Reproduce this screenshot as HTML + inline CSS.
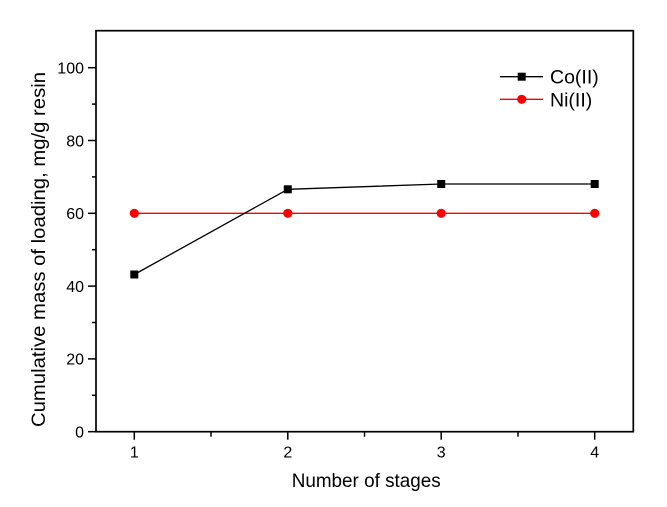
<!DOCTYPE html>
<html><head><meta charset="utf-8"><style>
html,body{margin:0;padding:0;background:#fff;}
svg{display:block;}
text{font-family:"Liberation Sans",Arial,sans-serif;fill:#000;}
</style></head><body>
<svg width="667" height="507" viewBox="0 0 667 507" xmlns="http://www.w3.org/2000/svg">
<rect width="667" height="507" fill="#fff"/>
<!-- axes box -->
<rect x="96" y="30.7" width="537.3" height="401" fill="none" stroke="#000" stroke-width="1.7"/>
<!-- y major ticks -->
<g stroke="#000" stroke-width="1.5">
<line x1="88" y1="431.7" x2="96" y2="431.7"/>
<line x1="88" y1="358.9" x2="96" y2="358.9"/>
<line x1="88" y1="286.1" x2="96" y2="286.1"/>
<line x1="88" y1="213.3" x2="96" y2="213.3"/>
<line x1="88" y1="140.5" x2="96" y2="140.5"/>
<line x1="88" y1="67.7" x2="96" y2="67.7"/>
<!-- y minor -->
<line x1="92" y1="395.3" x2="96" y2="395.3"/>
<line x1="92" y1="322.5" x2="96" y2="322.5"/>
<line x1="92" y1="249.7" x2="96" y2="249.7"/>
<line x1="92" y1="176.9" x2="96" y2="176.9"/>
<line x1="92" y1="104.1" x2="96" y2="104.1"/>
<!-- x major -->
<line x1="134.3" y1="431.7" x2="134.3" y2="439.7"/>
<line x1="287.8" y1="431.7" x2="287.8" y2="439.7"/>
<line x1="441.2" y1="431.7" x2="441.2" y2="439.7"/>
<line x1="594.7" y1="431.7" x2="594.7" y2="439.7"/>
<!-- x minor -->
<line x1="211" y1="431.7" x2="211" y2="436.7"/>
<line x1="364.5" y1="431.7" x2="364.5" y2="436.7"/>
<line x1="518" y1="431.7" x2="518" y2="436.7"/>
</g>
<!-- y tick labels -->
<g font-size="16" text-anchor="end">
<text x="84" y="437.5">0</text>
<text x="84" y="364.7">20</text>
<text x="84" y="291.9">40</text>
<text x="84" y="219.1">60</text>
<text x="84" y="146.3">80</text>
<text x="84" y="73.5">100</text>
</g>
<!-- x tick labels -->
<g font-size="16" text-anchor="middle">
<text x="134.3" y="457.3">1</text>
<text x="287.8" y="457.3">2</text>
<text x="441.2" y="457.3">3</text>
<text x="594.7" y="457.3">4</text>
</g>
<!-- axis titles -->
<text x="291.7" y="487" font-size="19.5" textLength="149" lengthAdjust="spacingAndGlyphs">Number of stages</text>
<text transform="translate(45,427) rotate(-90)" font-size="19.5" textLength="355" lengthAdjust="spacingAndGlyphs">Cumulative mass of loading, mg/g resin</text>
<!-- Ni series -->
<polyline points="134.3,213.3 287.8,213.3 441.2,213.3 594.7,213.3" fill="none" stroke="#ff0000" stroke-width="1.3"/>
<g fill="#ff0000">
<circle cx="134.3" cy="213.3" r="4.6"/>
<circle cx="287.8" cy="213.3" r="4.6"/>
<circle cx="441.2" cy="213.3" r="4.6"/>
<circle cx="594.7" cy="213.3" r="4.6"/>
</g>
<!-- Co series -->
<polyline points="134.3,274.5 287.8,189.3 441.2,184 594.7,184" fill="none" stroke="#000" stroke-width="1.3"/>
<g fill="#000">
<rect x="130.3" y="270.5" width="8" height="8"/>
<rect x="283.8" y="185.3" width="8" height="8"/>
<rect x="437.2" y="180" width="8" height="8"/>
<rect x="590.7" y="180" width="8" height="8"/>
</g>
<!-- legend -->
<line x1="500" y1="76.7" x2="543" y2="76.7" stroke="#000" stroke-width="1.3"/>
<rect x="517.7" y="72.7" width="8" height="8" fill="#000"/>
<text x="550" y="83.5" font-size="19.5">Co(II)</text>
<line x1="500" y1="99.3" x2="543" y2="99.3" stroke="#ff0000" stroke-width="1.3"/>
<circle cx="521.7" cy="99.3" r="4.6" fill="#ff0000"/>
<text x="550" y="106.5" font-size="19.5">Ni(II)</text>
</svg>
</body></html>
